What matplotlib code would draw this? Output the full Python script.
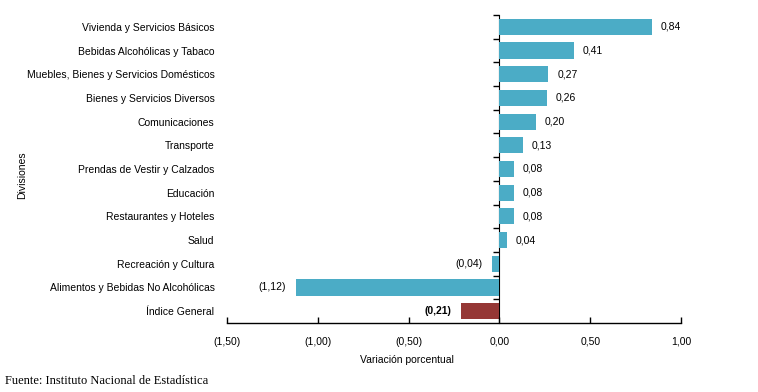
import matplotlib
matplotlib.use("Agg")
import matplotlib.pyplot as plt
import numpy as np

categories = [
    "Vivienda y Servicios Básicos",
    "Bebidas Alcohólicas y Tabaco",
    "Muebles, Bienes y Servicios Domésticos",
    "Bienes y Servicios Diversos",
    "Comunicaciones",
    "Transporte",
    "Prendas de Vestir y Calzados",
    "Educación",
    "Restaurantes y Hoteles",
    "Salud",
    "Recreación y Cultura",
    "Alimentos y Bebidas No Alcohólicas",
    "Índice General",
]
values = [0.84, 0.41, 0.27, 0.26, 0.20, 0.13, 0.08, 0.08, 0.08, 0.04, -0.04, -1.12, -0.21]
xticks = [-1.5, -1.0, -0.5, 0.0, 0.5, 1.0]

BLUE = "#4BACC6"
RED = "#953735"
plt.rcParams["font.family"] = ["Liberation Sans", "DejaVu Sans"]
FS = 7.5


def fmt(v):
    s = f"{abs(v):.2f}".replace(".", ",")
    return f"({s})" if v < 0 else s


fig = plt.figure(figsize=(7.58, 3.92), dpi=100)
ax = fig.add_axes([227 / 758, 1 - 323 / 392, 454 / 758, 308 / 392])

n = len(categories)
y = np.arange(n)
colors = [BLUE] * (n - 1) + [RED]
ax.barh(y, values, height=0.68, color=colors)

for yi, v in zip(y, values):
    bold = yi == n - 1
    if v >= 0:
        ax.annotate(fmt(v), (v, yi), xytext=(6.5, 0), textcoords="offset points",
                    ha="left", va="center", fontsize=FS)
    else:
        ax.annotate(fmt(v), (v, yi), xytext=(-7, 0), textcoords="offset points",
                    ha="right", va="center", fontsize=FS,
                    fontweight="bold" if bold else "normal")

ax.set_xlim(-1.5, 1.0)
ax.set_ylim(n - 0.5, -0.5)
ax.set_xticks(xticks)
ax.set_xticklabels([fmt(t) for t in xticks], fontsize=FS)
ax.tick_params(axis="x", direction="in", length=4, width=1, pad=10)
ax.set_yticks(y)
ax.set_yticklabels(categories, fontsize=FS)
ax.tick_params(axis="y", length=0, pad=9)

for s in ["top", "right", "left"]:
    ax.spines[s].set_visible(False)
ax.spines["bottom"].set_linewidth(1)

# vertical axis line at zero with category boundary ticks
zero_pos = (0 - xticks[0]) / (xticks[-1] - xticks[0])
sec = ax.secondary_yaxis(zero_pos)
sec.set_yticks(np.arange(-0.5, n - 0.5, 1))
sec.set_yticklabels([])
sec.tick_params(axis="y", direction="in", length=4, width=1)
sec.spines["left"].set_linewidth(1)

fig.text(407 / 758, 1 - 360 / 392, "Variación porcentual", ha="center", va="center", fontsize=FS)
fig.text(22 / 758, 1 - 175 / 392, "Divisiones", ha="center", va="center",
         rotation=90, fontsize=FS)
fig.text(5 / 758, 1 - 381 / 392, "Fuente: Instituto Nacional de Estadística",
         ha="left", va="center", fontsize=9, family=["Liberation Serif", "DejaVu Serif"])

fig.savefig("out.png", dpi=100)
